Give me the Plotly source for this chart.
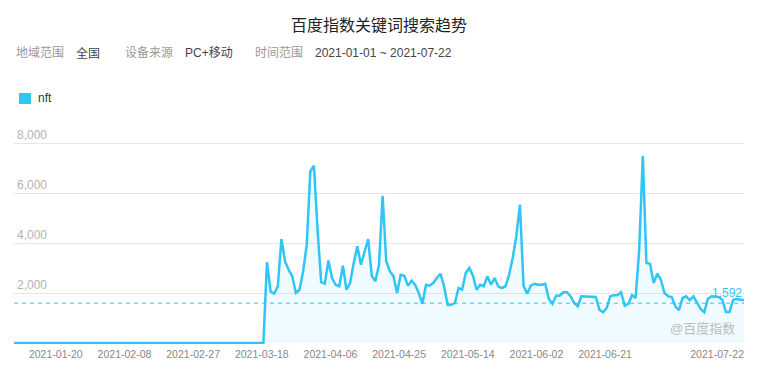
import datetime as dt
import plotly.graph_objects as go

# ---------------- data ----------------
title = "百度指数关键词搜索趋势"
series_name = "nft"
start_date = "2021-01-01"
end_date = "2021-07-22"
average_value = 1592

# daily values 2021-01-01 .. 2021-03-10 are zero (70 days), then from 2021-03-11
zero_days = 70
values_from_mar11 = [
    3230, 2070, 1970, 2270, 4160, 3270, 2930, 2670, 2000, 2130,
    2870, 3930, 6870, 7090, 4530, 2430, 2370, 3300, 2600, 2330,
    2270, 3090, 2130, 2400, 3200, 3870, 3130, 3600, 4160, 2690,
    2470, 3130, 5890, 3270, 2870, 2670, 2000, 2730, 2690, 2290,
    2490, 2330, 2000, 1570, 2330, 2290, 2400, 2600, 2770, 2270,
    1520, 1530, 1600, 2200, 2130, 2800, 3000, 2690, 2130, 2330,
    2270, 2670, 2330, 2600, 2270, 2200, 2270, 2730, 3400, 4290,
    5530, 2290, 1970, 2290, 2370, 2330, 2330, 2370, 1760, 1570,
    1890, 1890, 2030, 2030, 1870, 1600, 1470, 1870, 1870, 1870,
    1870, 1840, 1330, 1230, 1400, 1870, 1910, 1910, 2030, 1490,
    1570, 1910, 1800, 3730, 7490, 3200, 3170, 2400, 2770, 2530,
    2000, 1870, 1840, 1470, 1310, 1800, 1870, 1710, 1870, 1600,
    1360, 1230, 1760, 1870, 1870, 1840, 1730, 1240, 1240, 1730,
    1760, 1730, 1710,
]
values = [0] * zero_days + values_from_mar11

x_tick_dates = ["2021-01-20", "2021-02-08", "2021-02-27", "2021-03-18",
                "2021-04-06", "2021-04-25", "2021-05-14", "2021-06-02",
                "2021-06-21", "2021-07-22"]
y_tick_vals = [0, 2000, 4000, 6000, 8000]
y_tick_text = ["", "2,000", "4,000", "6,000", "8,000"]

info_items = [
    ("地域范围", "label"), ("全国", "value"),
    ("设备来源", "label"), ("PC+移动", "value"),
    ("时间范围", "label"), ("2021-01-01 ~ 2021-07-22", "value"),
]
watermark = "@百度指数"

# ---------------- build ----------------
d0 = dt.date.fromisoformat(start_date)
dates = [d0 + dt.timedelta(days=i) for i in range(len(values))]

W, H = 761, 371
ML, MR, MT, MB = 14, 17, 121, 27
PW = W - ML - MR
PH = H - MT - MB

def px_x(px):
    return (px - ML) / PW

def px_y(py):
    return (H - MB - py) / PH

LINE = "#2fc6f6"
FONT = "Liberation Sans, Noto Sans CJK SC, sans-serif"

fig = go.Figure()
fig.add_trace(go.Scatter(
    x=dates, y=values, name=series_name, mode="lines",
    line=dict(color=LINE, width=2.5),
    fill="tozeroy", fillcolor="rgba(47,198,246,0.08)",
    showlegend=False,
))

fig.add_shape(type="line", xref="paper", x0=0, x1=1, yref="y",
              y0=average_value, y1=average_value,
              line=dict(color=LINE, width=1, dash="4px,4px"))

annotations = [
    dict(text=title, xref="paper", yref="paper", x=0.5, y=px_y(25),
         xanchor="center", yanchor="middle", showarrow=False,
         font=dict(size=16, color="#222", family=FONT)),
    dict(text=f"{average_value:,}", xref="paper", yref="y", x=1,
         y=average_value, xanchor="right", yanchor="bottom", yshift=1,
         showarrow=False, font=dict(size=12, color=LINE, family=FONT)),
    dict(text=watermark, xref="paper", yref="paper", x=px_x(737),
         y=px_y(328), xanchor="right", yanchor="middle", showarrow=False,
         font=dict(size=13, color="#bdbdbd", family=FONT)),
    dict(text=series_name, xref="paper", yref="paper", x=px_x(36),
         y=px_y(98), xanchor="left", yanchor="middle", showarrow=False,
         font=dict(size=12, color="#333", family=FONT)),
]

info_x = [14, 74, 122.5, 182.5, 253, 313]
for (txt, kind), xp in zip(info_items, info_x):
    annotations.append(dict(
        text=txt, xref="paper", yref="paper", x=px_x(xp), y=px_y(53),
        xanchor="left", yanchor="middle", showarrow=False,
        font=dict(size=12, color="#999" if kind == "label" else "#444",
                  family=FONT)))

fig.add_shape(type="rect", xref="paper", yref="paper",
              x0=px_x(19), x1=px_x(31), y0=px_y(104), y1=px_y(93),
              fillcolor=LINE, line=dict(width=0))

fig.update_layout(
    width=W, height=H,
    margin=dict(l=ML, r=MR, t=MT, b=MB),
    paper_bgcolor="white", plot_bgcolor="white",
    font=dict(family=FONT),
    annotations=annotations,
    showlegend=False,
    xaxis=dict(
        type="date", range=[start_date, end_date],
        tickvals=x_tick_dates, ticktext=x_tick_dates,
        ticklabelposition="outside left",
        ticklabelstandoff=2,
        tickfont=dict(size=10.5, color="#888", family=FONT),
        showgrid=False, zeroline=False, showline=False, ticks="",
        fixedrange=True,
    ),
    yaxis=dict(
        range=[-40, 8880],
        tickvals=y_tick_vals, ticktext=y_tick_text,
        ticklabelposition="inside top",
        tickfont=dict(size=12, color="#b3b3b3", family=FONT),
        showgrid=True, gridcolor="#e6e6e6", gridwidth=1,
        zeroline=False, showline=False, ticks="",
    ),
)

fig.write_html("out.html")
